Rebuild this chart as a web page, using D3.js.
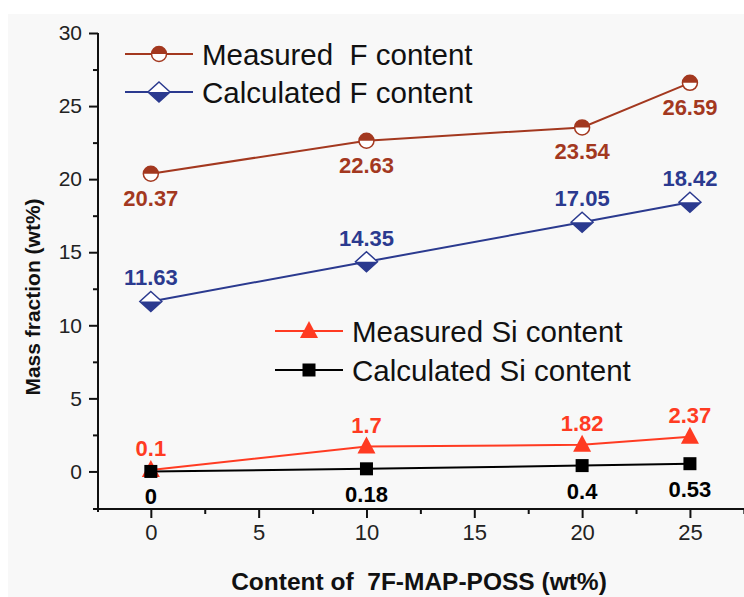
<!DOCTYPE html>
<html><head><meta charset="utf-8">
<script src="https://cdn.jsdelivr.net/npm/d3@7"></script>
<style>
html,body{margin:0;padding:0;background:#fff;}
svg{display:block;font-family:"Liberation Sans",Arial,sans-serif;}
text{white-space:pre;}
</style></head><body>
<svg id="c" width="744" height="597"></svg>
<script>
const xValues = [0, 10, 20, 25];
const measuredF = [20.37, 22.63, 23.54, 26.59];
const calculatedF = [11.63, 14.35, 17.05, 18.42];
const measuredSi = [0.1, 1.7, 1.82, 2.37];
const calculatedSi = [0, 0.18, 0.4, 0.53];
const labelsMeasuredF = ["20.37", "22.63", "23.54", "26.59"];
const labelsCalculatedF = ["11.63", "14.35", "17.05", "18.42"];
const labelsMeasuredSi = ["0.1", "1.7", "1.82", "2.37"];
const labelsCalculatedSi = ["0", "0.18", "0.4", "0.53"];
const xTicks = [0, 5, 10, 15, 20, 25];
const yTicks = [0, 5, 10, 15, 20, 25, 30];
const legendF = ["Measured  F content", "Calculated F content"];
const legendSi = ["Measured Si content", "Calculated Si content"];
const xTitle = "Content of  7F-MAP-POSS (wt%)";
const yTitle = "Mass fraction (wt%)";

const svg = d3.select("#c");
svg.append("rect").attr("x", 8).attr("y", 14).attr("width", 736).attr("height", 583).attr("fill", "#f8f8f8");

const x = d3.scaleLinear().domain([-2.45, 27.6]).range([98, 746]);
const y = d3.scaleLinear().domain([-2.57, 30]).range([509, 33]);

const C = {mf: "#a3381f", cf: "#2b3a8f", ms: "#ff3b22", cs: "#000000"};

// axes
const minorVals = [2.5, 7.5, 12.5, 17.5, 22.5, 27.5];
const xAxis = d3.axisBottom(x).tickValues(xTicks).tickSize(9).tickPadding(6).tickFormat(d3.format("d"));
const xMinor = d3.axisBottom(x).tickValues(minorVals).tickSize(5).tickFormat("");
const yAxis = d3.axisLeft(y).tickValues(yTicks).tickSize(9).tickPadding(7).tickFormat(d3.format("d"));
const yMinor = d3.axisLeft(y).tickValues(minorVals).tickSize(5).tickFormat("");

const gx = svg.append("g").attr("transform", "translate(0,509)");
gx.call(xAxis);
gx.append("g").call(xMinor);
const gy = svg.append("g").attr("transform", "translate(98,0)");
gy.call(yAxis);
gy.append("g").call(yMinor);
gy.selectAll("g g .domain").remove();
gx.selectAll("g g .domain").remove();
svg.selectAll(".domain").attr("stroke", "#111").attr("stroke-width", 2);
svg.selectAll(".tick line").attr("stroke", "#111").attr("stroke-width", 2);
gx.selectAll(".tick text").attr("font-size", 22).attr("fill", "#222").attr("font-family", "Liberation Sans, Arial, sans-serif");
gy.selectAll(".tick text").attr("font-size", 21).attr("fill", "#222").attr("font-family", "Liberation Sans, Arial, sans-serif");
gy.select(".domain").attr("d", `M0,${y(30)}V${y.range()[0] + 3}`);
gx.select(".domain").attr("d", `M${x.range()[0] - 5},0H${x.range()[1]}`);

svg.append("text").attr("x", 419).attr("y", 590).attr("text-anchor", "middle")
  .attr("font-size", 24.5).attr("font-weight", "bold").attr("fill", "#111").text(xTitle);
svg.append("text").attr("transform", "translate(40,297) rotate(-90)").attr("text-anchor", "middle")
  .attr("font-size", 21).attr("font-weight", "bold").attr("fill", "#111").text(yTitle);

// markers
function circleHalf(g, cx, cy, col) {
  const r = 7.5;
  g.append("circle").attr("cx", cx).attr("cy", cy).attr("r", r).attr("fill", "#fff");
  g.append("path").attr("d", `M${cx - r},${cy}A${r},${r} 0 0 1 ${cx + r},${cy}Z`).attr("fill", col);
  g.append("circle").attr("cx", cx).attr("cy", cy).attr("r", r).attr("fill", "none").attr("stroke", col).attr("stroke-width", 1.5);
}
function diamondHalf(g, cx, cy, col) {
  const w = 11, h = 10;
  g.append("path").attr("d", `M${cx},${cy - h}L${cx + w},${cy}L${cx},${cy + h}L${cx - w},${cy}Z`).attr("fill", "#fff");
  g.append("path").attr("d", `M${cx - w},${cy}L${cx + w},${cy}L${cx},${cy + h}Z`).attr("fill", col);
  g.append("path").attr("d", `M${cx},${cy - h}L${cx + w},${cy}L${cx},${cy + h}L${cx - w},${cy}Z`).attr("fill", "none").attr("stroke", col).attr("stroke-width", 1.5);
}
function triangle(g, cx, cy, col) {
  g.append("path").attr("d", `M${cx},${cy - 10}L${cx + 9},${cy + 7}L${cx - 9},${cy + 7}Z`).attr("fill", col);
}
function square(g, cx, cy, col) {
  g.append("rect").attr("x", cx - 6.5).attr("y", cy - 6.5).attr("width", 13).attr("height", 13).attr("fill", col);
}

const series = [
  {vals: calculatedSi, labels: labelsCalculatedSi, col: C.cs, marker: square, dy: 25},
  {vals: measuredSi, labels: labelsMeasuredSi, col: C.ms, marker: triangle, dy: -22},
  {vals: calculatedF, labels: labelsCalculatedF, col: C.cf, marker: diamondHalf, dy: -24},
  {vals: measuredF, labels: labelsMeasuredF, col: C.mf, marker: circleHalf, dy: 24}
];
const markerOrder = [series[1], series[0], series[2], series[3]];
const line = d3.line().x(d => x(d[0])).y(d => y(d[1]));
series.forEach(s => {
  const pts = xValues.map((xv, i) => [xv, s.vals[i]]);
  svg.append("path").attr("d", line(pts)).attr("fill", "none").attr("stroke", s.col).attr("stroke-width", 2);
});
markerOrder.forEach(s => {
  const g = svg.append("g");
  xValues.forEach((xv, i) => s.marker(g, x(xv), y(s.vals[i]), s.col));
});
series.forEach(s => {
  const g = svg.append("g");
  xValues.forEach((xv, i) => {
    g.append("text").attr("x", x(xv)).attr("y", y(s.vals[i]) + s.dy).attr("dy", "0.36em")
      .attr("text-anchor", "middle").attr("font-size", 22).attr("font-weight", "bold")
      .attr("fill", s.col).text(s.labels[i]);
  });
});

// legends
function legendItem(lx0, lx1, ly, text, col, marker) {
  const g = svg.append("g");
  g.append("line").attr("x1", lx0).attr("x2", lx1).attr("y1", ly).attr("y2", ly).attr("stroke", col).attr("stroke-width", 2);
  marker(g, (lx0 + lx1) / 2, ly, col);
  g.append("text").attr("x", lx1 + 9).attr("y", ly).attr("dy", "0.36em").attr("font-size", 29.5).attr("fill", "#111").text(text);
}
legendItem(125, 193, 54, legendF[0], C.mf, circleHalf);
legendItem(125, 193, 92, legendF[1], C.cf, diamondHalf);
legendItem(275, 343, 331, legendSi[0], C.ms, triangle);
legendItem(275, 343, 370, legendSi[1], C.cs, square);
</script></body></html>
